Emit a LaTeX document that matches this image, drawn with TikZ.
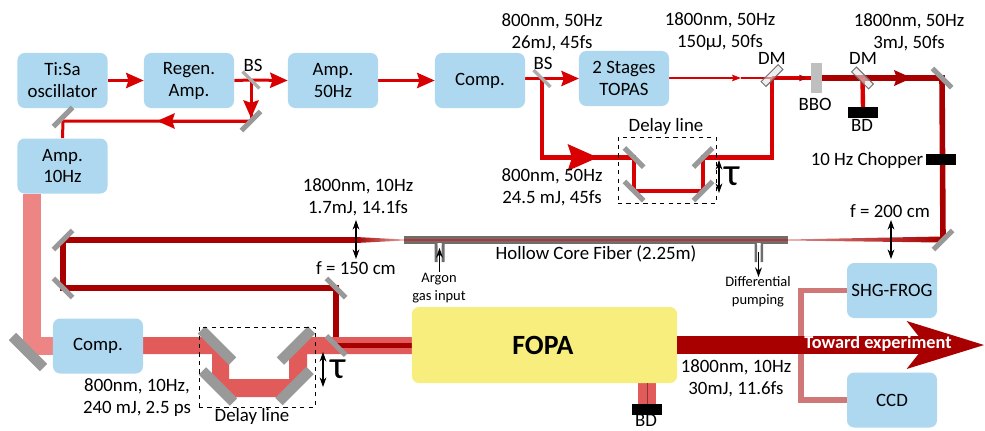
\documentclass[tikz,border=0pt]{standalone}
\usepackage{fontspec}
\setmainfont{Carlito}
\usepackage{xcolor}
\definecolor{boxblue}{HTML}{AED8F0}
\definecolor{fopayellow}{HTML}{F7EE7E}
\definecolor{laserred}{HTML}{D80000}
\definecolor{darkred}{HTML}{A80000}
\definecolor{pumpred}{HTML}{E25B5B}
\definecolor{lightred}{HTML}{EE8585}
\definecolor{dullred}{HTML}{D07878}
\definecolor{mirrorgray}{HTML}{999999}
\definecolor{fibergray}{HTML}{6E6E6E}
\usetikzlibrary{arrows.meta,backgrounds}
\tikzset{
  blockbox/.style={fill=boxblue, rounded corners=0.18cm, minimum width=2.25cm, minimum height=1.375cm, align=center, inner sep=0pt, font=\fontsize{13.4}{15.6}\selectfont},
  lbl/.style={align=center, inner sep=0pt, font=\fontsize{13.4}{15.6}\selectfont},
  smalllbl/.style={align=center, inner sep=0pt, font=\fontsize{10.3}{13}\selectfont},
  mirror/.style={fill=mirrorgray, minimum width=0.68cm, minimum height=0.125cm, inner sep=0pt},
  bigmirror/.style={fill=mirrorgray, minimum width=1.1cm, minimum height=0.26cm, inner sep=0pt},
  stopper/.style={fill=black, minimum width=0.75cm, minimum height=0.27cm, inner sep=0pt},
  dmirror/.style={draw=fibergray, fill=gray!20, fill opacity=0.6, line width=0.7pt, minimum width=0.6cm, minimum height=0.17cm, inner sep=0pt},
  redbeam/.style={draw=laserred, line width=0.075cm},
  wideredbeam/.style={draw=laserred, line width=0.11cm},
  darkbeam/.style={draw=darkred, line width=0.14cm},
  pumpbeam/.style={draw=pumpred, line width=0.43cm},
  tip/.style={-{Stealth[length=0.44cm, width=0.38cm, inset=0.06cm]}},
  bigtip/.style={-{Stealth[length=0.75cm, width=0.65cm, inset=0.1cm]}},
  smalltip/.style={-{Stealth[length=0.22cm, width=0.16cm, inset=0.03cm]}},
  blackarrow/.style={draw=black, line width=0.8pt, >={Stealth[length=0.24cm, width=0.17cm]}},
  dashbox/.style={draw=black, dashed, line width=0.6pt, inner sep=0pt},
}
\begin{document}
\begin{tikzpicture}[x=0.025cm, y=-0.025cm]
\useasboundingbox (0,0) rectangle (985,430);
% blocks
\node[blockbox] (tisa) at (62.5,80.5) {Ti:Sa\\oscillator};
\node[blockbox] (regen) at (189,80.5) {Regen.\\Amp.};
\node[blockbox] (ampfifty) at (333,80.5) {Amp.\\50Hz};
\node[blockbox] (compa) at (480,80.5) {Comp.};
\node[blockbox] (topas) at (624,78.5) {2 Stages\\TOPAS};
\node[blockbox] (ampten) at (62.5,166) {Amp.\\10Hz};
\node[blockbox] (compb) at (98,346) {Comp.};
\node[blockbox] (frog) at (892,290.5) {SHG-FROG};
\node[blockbox] (ccd) at (892,400) {CCD};
\node[fill=fopayellow, rounded corners=0.18cm, minimum width=6.63cm, minimum height=1.9cm, inner sep=0pt] (fopa) at (544.5,345) {};
\node[lbl, font=\fontsize{19.8}{22}\selectfont\bfseries] (fopatxt) at (543,345) {FOPA};
% mirrors
\node[mirror, minimum width=0.6cm, minimum height=0.085cm, rotate=-45, fill=mirrorgray!80] (bsa) at (251,80) {};
\node[mirror, rotate=45] (fold) at (251,121) {};
\node[mirror, rotate=45] (oscm) at (63,117) {};
\node[mirror, minimum width=0.6cm, minimum height=0.085cm, rotate=-45, fill=mirrorgray!80] (bsb) at (542,78.5) {};
\node[mirror, rotate=-45] (dla) at (634,157.5) {};
\node[mirror, rotate=45] (dlb) at (703,157.5) {};
\node[mirror, rotate=-45] (dlc) at (634,191) {};
\node[mirror, rotate=45] (dld) at (703,191) {};
\node[mirror, rotate=-45] (topr) at (942,78) {};
\node[mirror, rotate=45] (botr) at (943,240) {};
\node[mirror, rotate=45] (hcfa) at (63,240) {};
\node[mirror, rotate=-45] (hcfb) at (63,288) {};
\node[mirror, rotate=-45] (hcfc) at (336,288) {};
\node[mirror, rotate=-45] (combine) at (336,345.5) {};
\node[bigmirror, rotate=-45] (lowm) at (28,352) {};
\node[bigmirror, rotate=-45] (dpa) at (217,345.5) {};
\node[bigmirror, rotate=45] (dpb) at (296,345.5) {};
\node[bigmirror, rotate=-45] (dpc) at (218,386.5) {};
\node[bigmirror, rotate=45] (dpd) at (294.5,386) {};
\node[dmirror, rotate=45] (dma) at (772,75.5) {};
\node[dmirror, rotate=-45] (dmb) at (862.5,78) {};
\node[fill=gray!50, minimum width=0.275cm, minimum height=0.75cm, inner sep=0pt] (bbo) at (816.5,78) {};
\node[stopper] (bda) at (863,112.5) {};
\node[stopper] (bdb) at (647,409.5) {};
\node[stopper] (chopper) at (941,159.5) {};
% free beam ends
\coordinate (dropa) at (251,118);
\coordinate (foldmid) at (157,121);
\coordinate (bsbarr) at (579,78.5);
\coordinate (longmid) at (598,157.5);
\coordinate (thinmid) at (741,78);
\coordinate (dmarr) at (808,78);
\coordinate (darkmid) at (912,78);
\coordinate (dmbot) at (863,107);
\coordinate (toptip) at (985,345);
% beams behind everything
\begin{scope}[on background layer]
\draw[redbeam, tip] (tisa.east) -- (regen.west);
\draw[redbeam] (regen.east) -- (bsa.center);
\draw[redbeam, tip] (bsa.center) -- (ampfifty.west);
\draw[redbeam, tip] (ampfifty.east) -- (compa.west);
\draw[redbeam] (bsa.center) -- (dropa);
\draw[redbeam, tip] (bsa.center) -- (dropa);
\draw[redbeam] (fold.center) -- (oscm.center |- fold.center) -- (ampten.north);
\draw[redbeam, tip] (fold.center) -- (foldmid);
\draw[redbeam] (compa.east |- bsb.center) -- (bsb.center);
\draw[redbeam, tip] (bsb.center) -- (bsbarr);
\draw[wideredbeam] (bsb.center) |- (dla.center) -- (dlc.center) -- (dld.center) -- (dlb.center) -| (dma.center |- thinmid);
\draw[wideredbeam, bigtip] (bsb.center |- dla.center) -- (longmid);
\draw[draw=laserred, line width=1pt] (thinmid) -- (dma.center |- thinmid);
\draw[draw=laserred, line width=1pt, smalltip] (topas.east |- thinmid) -- (thinmid);
\draw[wideredbeam] (dma.center |- thinmid) -- (bbo.center |- thinmid);
\draw[draw=darkred!70!laserred, line width=0.5pt, smalltip] (dma.center |- thinmid) -- (dmarr);
\draw[darkbeam] (bbo.center |- topr.center) -- (topr.center) -- (botr.center);
\draw[darkbeam, tip] (bbo.center |- topr.center) -- (darkmid);
\draw[wideredbeam] (dmb.center |- topr.center) -- (dmbot);
% into and out of the fiber
\fill[darkred] (63,237) rectangle (356,243);
\shade[left color=darkred, right color=darkred!35] (356,237) -- (404,239.5) -- (404,240.5) -- (356,243) -- cycle;
\shade[left color=darkred!45, right color=darkred] (788,239.5) -- (941,236.5) -- (941,242.5) -- (788,240.5) -- cycle;
\draw[darkbeam] (hcfa.center) -- (hcfb.center) -- (hcfc.center) -- (combine.center);
\draw[draw=lightred, line width=0.45cm] (ampten.south -| 32,0) -- (32,345.5) -- (compb.west |- 0,345.5);
% pump through the delay line
\fill[pumpred] (143,337) -- (208.5,337) -- (229,357.5) -- (229,379) -- (289,379) -- (289,353) -- (305,337) -- (412,337) -- (412,354) -- (307,354) -- (307,374) -- (284,397) -- (229,397) -- (212,380) -- (212,354) -- (143,354) -- cycle;
\draw[darkbeam] (combine.center) -- (fopa.west |- combine.center);
\draw[pumpbeam] (bdb.north |- fopa.south) -- (bdb.north);
\draw[draw=dullred, line width=0.13cm] (frog.west) -| (801,345) |- (ccd.west);
\end{scope}
% output beam
\draw[draw=darkred, line width=0.43cm, -{Stealth[length=1.9cm, width=1.13cm, inset=0.42cm]}] (fopa.east) -- (toptip);
\draw[pumpred!60!black, line width=0.4pt] (bdb.north |- fopa.south) -- (bdb.north);
% fiber
\fill[fibergray] (404,236) rectangle (788,244);
\fill[darkred!80!white] (404,239.2) rectangle (788,240.8);
\fill[fibergray] (434.5,244) rectangle (437.5,262) (441.5,244) rectangle (444.5,262);
\fill[fibergray] (754.5,244) rectangle (757,262) (760.5,244) rectangle (763,262);
\fill[white] (437.5,243) rectangle (441.5,245) (757,243) rectangle (760.5,245);
\coordinate (gasbot) at (439.5,272);
\coordinate (gastop) at (439.5,248);
\coordinate (pumptop) at (758.5,252);
\coordinate (pumpbot) at (758.5,277);
\draw[blackarrow, ->] (gasbot) -- (gastop);
\draw[blackarrow, ->] (pumptop) -- (pumpbot);
% lens and delay arrows
\coordinate (lensat) at (356,220);
\coordinate (lensab) at (356,259);
\coordinate (lensbt) at (891,220);
\coordinate (lensbb) at (891,259);
\coordinate (taut) at (719,160);
\coordinate (taub) at (719,193);
\coordinate (taupt) at (323,352);
\coordinate (taupb) at (323,387);
\draw[blackarrow, <->] (lensat) -- (lensab);
\draw[blackarrow, <->] (lensbt) -- (lensbb);
\draw[blackarrow, <->] (taut) -- (taub);
\draw[blackarrow, <->] (taupt) -- (taupb);
\node[dashbox, minimum width=2.45cm, minimum height=1.65cm] (dlbox) at (667,170) {};
\node[dashbox, minimum width=2.9cm, minimum height=2cm] (dpbox) at (257,367) {};
% labels
\node[lbl] (bslbla) at (253,65) {BS};
\node[lbl] (bslblb) at (543,63) {BS};
\node[lbl] (specb) at (552,32) {800nm, 50Hz\\26mJ, 45fs};
\node[lbl] (specc) at (720,32) {1800nm, 50Hz\\150µJ, 50fs};
\node[lbl] (specd) at (909,32) {1800nm, 50Hz\\3mJ, 50fs};
\node[lbl] (spece) at (552,187) {800nm, 50Hz\\24.5 mJ, 45fs};
\node[lbl] (specf) at (358,197) {1800nm, 10Hz\\1.7mJ, 14.1fs};
\node[lbl] (specg) at (137,398) {800nm, 10Hz,\\240 mJ, 2.5 ps};
\node[lbl] (spech) at (736,378) {1800nm, 10Hz\\30mJ, 11.6fs};
\node[lbl] (dmlbla) at (772,58) {DM};
\node[lbl] (dmlblb) at (863,58) {DM};
\node[lbl] (bbolbl) at (815,104) {BBO};
\node[lbl] (bdlbla) at (862,125) {BD};
\node[lbl] (bdlblb) at (646,420) {BD};
\node[lbl] (choplbl) at (867,160) {10 Hz Chopper};
\node[lbl] (dllbla) at (666,126) {Delay line};
\node[lbl] (dllblb) at (252,416) {Delay line};
\node[lbl] (flbla) at (356,268) {f = 150 cm};
\node[lbl] (flblb) at (890,211) {f = 200 cm};
\node[lbl] (fiberlbl) at (596,254) {Hollow Core Fiber (2.25m)};
\node[smalllbl] (gaslbl) at (439,288) {Argon\\gas input};
\node[smalllbl] (pumplbl) at (758,292) {Differential\\pumping};
\node[lbl, font=\fontsize{28}{30}\selectfont] (taua) at (732,176) {τ};
\node[lbl, font=\fontsize{28}{30}\selectfont] (taup) at (338,369) {τ};
\node[lbl, text=white, font=\fontsize{13}{14}\selectfont\bfseries] (outlbl) at (878,344) {Toward experiment};
\end{tikzpicture}
\end{document}
